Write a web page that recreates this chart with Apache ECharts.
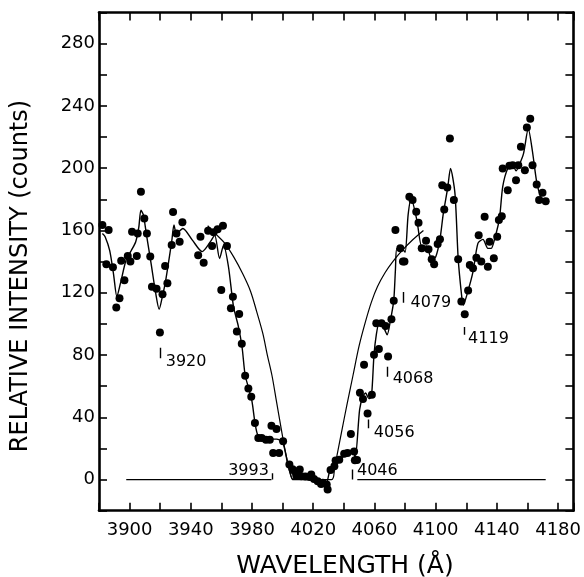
<!DOCTYPE html>
<html>
<head>
<meta charset="utf-8">
<script src="https://cdn.jsdelivr.net/npm/echarts@6/dist/echarts.min.js"></script>
<style>
html,body{margin:0;padding:0;background:#fff;}
#chart{width:584px;height:577px;}
</style>
</head>
<body>
<div id="chart"></div>
<script>
// ---- data ----
const xTickLabels = [3900, 3940, 3980, 4020, 4060, 4100, 4140, 4180];
const yTickLabels = [0, 40, 80, 120, 160, 200, 240, 280];
const xTitle = 'WAVELENGTH (Å)';
const yTitle = 'RELATIVE INTENSITY (counts)';

// measured points (wavelength, counts)
const dotWave = [3882.2,3884.8,3886.3,3889.1,3891.3,3893.4,3894.5,3896.6,3898.8,3900.5,3901.6,3904.7,3905.3,3907.4,3909.6,3911.3,3913.5,3914.6,3917.6,3919.8,3921.5,3923.2,3924.7,3927.5,3928.4,3930.6,3932.7,3934.5,3944.8,3946.3,3948.4,3951.3,3953.9,3954.9,3957.5,3959.9,3961.0,3963.6,3966.2,3967.5,3970.1,3971.6,3973.3,3975.5,3977.6,3979.5,3981.9,3984.1,3986.3,3989.1,3991.6,3992.7,3993.8,3996.0,3997.7,4000.3,4004.4,4006.5,4007.8,4008.9,4011.2,4012.2,4014.8,4017.6,4018.7,4020.5,4022.9,4025.1,4026.2,4028.8,4029.4,4031.3,4033.8,4034.6,4037.0,4040.2,4042.4,4044.6,4046.7,4047.2,4048.6,4050.5,4052.5,4053.2,4055.5,4058.3,4059.7,4061.2,4062.9,4064.6,4067.2,4068.9,4071.1,4072.6,4073.7,4076.9,4078.6,4079.6,4082.8,4084.9,4087.3,4088.8,4090.9,4093.7,4095.3,4097.4,4099.0,4101.3,4102.8,4104.3,4105.6,4107.6,4109.3,4111.9,4114.7,4116.8,4119.0,4121.2,4122.3,4124.4,4126.6,4128.1,4129.8,4132.0,4134.1,4135.2,4138.0,4140.2,4141.3,4143.2,4143.8,4147.1,4148.2,4150.3,4152.5,4154.0,4155.7,4158.3,4159.6,4161.8,4163.3,4166.0,4167.6,4169.8,4171.9];
const dotCounts = [163.5,138.3,160.3,136.3,110.5,116.5,140.6,128.0,143.6,140.0,159.2,143.6,158.1,184.8,167.7,158.1,143.2,123.9,122.6,94.4,119.0,137.2,126.1,150.6,171.8,158.1,152.8,165.2,144.0,156.0,139.3,159.8,150.0,158.8,160.7,121.8,163.0,150.0,110.1,117.5,95.1,106.4,87.2,66.7,58.5,53.2,36.3,26.7,26.7,25.6,25.6,34.6,17.1,32.5,17.1,24.6,9.6,6.7,5.3,2.6,6.4,2.1,1.9,1.7,3.2,0.4,-1.1,-2.8,-2.1,-3.2,-6.4,6.2,8.5,12.3,12.8,16.5,17.1,29.2,18.1,12.4,12.5,55.8,51.7,73.7,42.5,54.5,80.1,100.4,83.8,100.4,98.7,79.0,103.0,114.9,160.3,148.5,140.0,140.0,181.6,179.5,172.0,165.0,148.5,153.4,147.9,141.5,138.3,151.3,154.3,189.0,173.5,187.6,219.0,179.5,141.5,114.3,106.2,121.4,137.8,135.7,142.5,157.0,140.0,168.8,136.7,152.8,142.1,156.0,166.7,169.2,199.8,185.9,201.5,201.9,192.3,201.9,213.7,198.7,226.1,231.8,201.9,189.5,179.5,184.2,178.8];

// fitted (jagged) curve through the points
const fitWave = [3882.2,3884,3887,3889.5,3891.7,3894,3897.7,3901,3904,3906,3907.4,3909,3910.9,3914,3917,3919.3,3921.5,3923.6,3927.5,3929,3930.6,3934.8,3941,3947.4,3952.8,3955.6,3958.8,3961.4,3964.6,3967.9,3971.1,3973.5,3975.5,3978,3980,3982,3984,3988,3992,3996,4000,4003.5,4006.7,4010,4015,4020,4024,4028.4,4031,4034.8,4040.2,4045.6,4047.4,4050.3,4052.4,4054.2,4056.4,4058,4059.7,4061.2,4063,4066.2,4068.3,4070.5,4072.6,4073.7,4074.7,4077.9,4080,4082,4084,4087.7,4091,4094,4097.4,4100,4102.8,4105,4107.8,4109.7,4112.6,4114.7,4116.8,4118,4121.2,4124.4,4127.6,4130.9,4134.1,4136.3,4138.9,4141.7,4143.8,4147.1,4150.3,4152.5,4154.5,4157.4,4160.5,4163.3,4166,4168.7,4171];
const fitCounts = [158,156,147,132,117.5,126,141,147,152.8,162,173,170,158,139,120,109.4,118,128,152.8,163.5,158,161.3,153.8,146.4,152.8,157,142,150.6,136.7,111,98.3,85,67,58,50,36,28,27,26,26,24,9.6,0,3,2,1,-1,-2.1,6.4,11.7,15,19.2,14,44.9,53.4,55.6,52,53,80.1,93,100,97.2,93,102.6,114.9,134.6,148.5,148.5,146,170,180.6,166.7,149.6,150,141.5,143,154.3,171,187,199.8,183.8,142.1,119.7,112,121.4,133.5,151.7,154.3,148.5,148.5,156,167.8,188,199.8,201.9,198.3,201.9,209.4,225.4,210.4,191.2,181.6,179.5];

// smooth model profile
const modelWave = [3951,3956,3962,3968,3974,3979,3983,3987,3990,3993,3996,3999,4002,4005,4007,4032,4034,4036,4039,4042,4046,4050,4054,4058,4062,4067,4072,4078,4085,4092];
const modelCounts = [163,158,152,143,132,121,108,94,80,67,50,33,17,4,0,0,8,18,33,48,67,86,101,114,124,133,140,147,154,160];

// zero-level baseline segments
const baseA = [[3897.8, 0], [3992.7, 0]];
const baseB = [[4048.8, 0], [4171.9, 0]];

// line identifications: wavelength mark, mark low/high (counts), label, label anchor
const markWave  = [3920, 3993.5, 4045.7, 4056, 4068.6, 4078.7, 4118.5];
const markLow   = [78, 0, 0, 33, 66, 113.5, 93];
const markHigh  = [84.6, 4, 6.4, 38.5, 72.4, 120.5, 98];
const markText  = ['3920', '3993', '4046', '4056', '4068', '4079', '4119'];
const labelWave = [3923.6, 3991, 4048.6, 4059.6, 4071.9, 4083.6, 4121.2];
const labelCnt  = [75.6, 5.8, 5.8, 29.8, 65, 113.5, 90.4];
const labelSide = ['left', 'right', 'left', 'left', 'left', 'left', 'left'];

// ---- build ----
const zip = (a, b) => a.map((v, i) => [v, b[i]]);
const FONT = 'DejaVu Sans';
const INK = '#000';

const axisCommon = {
  type: 'value',
  axisLine: { show: true, onZero: false, lineStyle: { color: INK, width: 2.6 } },
  axisTick: { show: true, inside: true, length: 8, lineStyle: { color: INK, width: 1.6 } },
  splitLine: { show: false }
};

const option = {
  animation: false,
  backgroundColor: '#fff',
  grid: { left: 99, right: 8, top: 12.5, bottom: 66.3, containLabel: false },
  graphic: [
    { type: 'text', x: 345, y: 566, silent: true,
      style: { text: xTitle, fill: INK, font: '25px "DejaVu Sans"', textAlign: 'center', textVerticalAlign: 'middle' } },
    { type: 'text', x: 21, y: 276, rotation: Math.PI / 2, silent: true,
      style: { text: yTitle, fill: INK, font: '24px "DejaVu Sans"', textAlign: 'center', textVerticalAlign: 'middle' } }
  ],
  xAxis: [
    Object.assign({}, axisCommon, {
      position: 'bottom', min: 3880, max: 4190, interval: 20,
      axisLabel: {
        color: INK, fontFamily: FONT, fontSize: 18, margin: 11,
        formatter: v => xTickLabels.includes(v) ? String(v) : ''
      }
    }),
    Object.assign({}, axisCommon, {
      position: 'top', min: 3880, max: 4190, interval: 20,
      axisLabel: { show: false }
    })
  ],
  yAxis: [
    Object.assign({}, axisCommon, {
      position: 'left', min: -20, max: 300, interval: 20,
      axisLabel: {
        color: INK, fontFamily: FONT, fontSize: 18, margin: 4,
        formatter: v => yTickLabels.includes(v) ? String(v) : ''
      }
    }),
    Object.assign({}, axisCommon, {
      position: 'right', min: -20, max: 300, interval: 20,
      axisLabel: { show: false }
    })
  ],
  series: [
    {
      type: 'line', data: [...baseA, '-', ...baseB],
      connectNulls: false, showSymbol: false, symbol: 'none',
      lineStyle: { color: INK, width: 1.3 }, z: 1
    },
    {
      type: 'line', data: zip(modelWave, modelCounts), smooth: 0.35, symbol: 'none',
      lineStyle: { color: INK, width: 1.2 }, z: 2
    },
    {
      type: 'line', data: zip(fitWave, fitCounts), smooth: 0.25, symbol: 'none',
      lineStyle: { color: INK, width: 1.4 }, z: 3
    },
    {
      type: 'scatter', data: zip(dotWave, dotCounts), symbol: 'circle', symbolSize: 8,
      itemStyle: { color: INK, opacity: 1 }, z: 4
    },
    {
      type: 'lines', coordinateSystem: 'cartesian2d',
      data: markWave.map((w, i) => ({ coords: [[w, markLow[i]], [w, markHigh[i]]] })),
      lineStyle: { color: INK, width: 1.4, opacity: 1 }, z: 5, silent: true
    },
    {
      type: 'scatter', symbolSize: 0, z: 6, silent: true,
      itemStyle: { opacity: 1 },
      data: labelWave.map((w, i) => ({
        value: [w, labelCnt[i]], name: markText[i],
        label: { align: labelSide[i] }
      })),
      label: {
        show: true, position: [0, 0], verticalAlign: 'middle', formatter: '{b}',
        color: INK, fontFamily: FONT, fontSize: 16
      }
    }
  ]
};

const chart = echarts.init(document.getElementById('chart'), null, { renderer: 'canvas' });
chart.setOption(option);
</script>
</body>
</html>
